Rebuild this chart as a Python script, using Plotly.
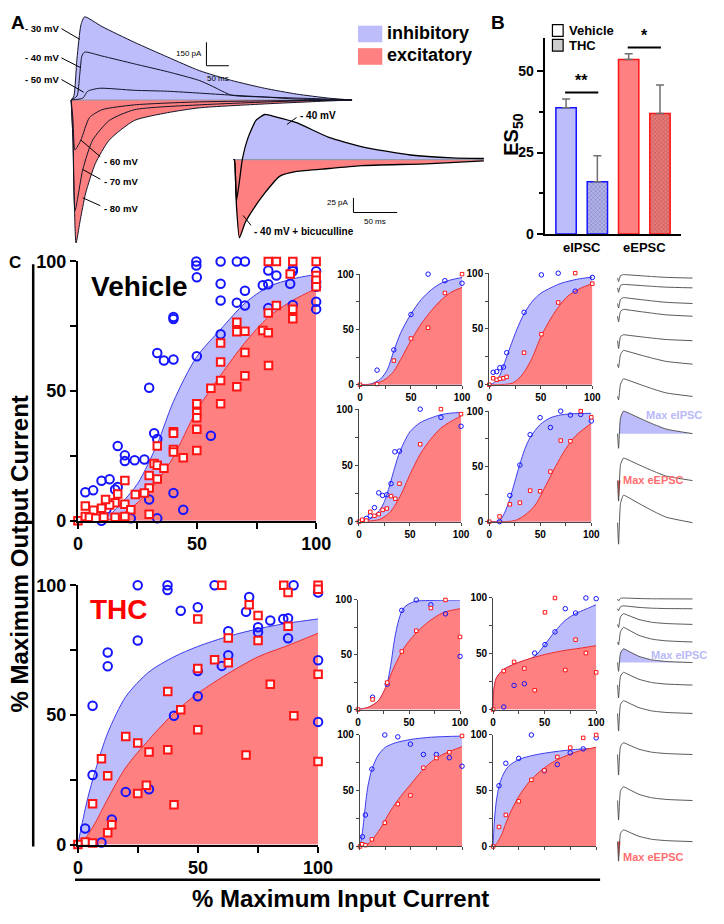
import plotly.graph_objects as go

W, H = 724, 924
FONT = "Liberation Sans, Arial, Helvetica, sans-serif"
BLUE_FILL = "rgb(189,189,252)"
RED_FILL = "rgb(255,128,128)"
BLUE_LINE = "rgb(60,60,235)"
RED_LINE = "rgb(235,45,45)"
BLUE_MK = "rgb(20,20,255)"
RED_MK = "rgb(255,20,20)"

# ---------------- Panel A data (time ms, current pA) ----------------
t_m30 = [0, 6, 13, 22, 30, 69, 141, 215, 286, 358, 432, 503, 575, 627]
i_m30 = [0, 25, 262, 481, 531, 469, 369, 275, 188, 125, 75, 38, 12, 0]
t_m40 = [0, 13, 19, 24, 30, 69, 141, 215, 286, 315, 358, 432, 575, 627]
i_m40 = [0, 25, 156, 281, 306, 281, 231, 181, 125, 88, 31, 19, 6, 0]
t_m50 = [0, 26, 37, 63, 141, 215, 286, 358, 432, 503, 627]
i_m50 = [0, 12, 56, 75, 62, 56, 44, 31, 19, 6, 0]
t_m60 = [0, 4, 8.7, 21.7, 41, 69, 141, 286, 627]
i_m60 = [0, -120, -319, -256, -112, -62, -31, -12, 0]
t_m70 = [0, 4, 8.7, 26, 48, 85, 141, 286, 503, 627]
i_m70 = [0, -250, -706, -444, -256, -131, -62, -31, -6, 0]
t_m80 = [0, 4, 11, 19.5, 32.5, 54, 85, 141, 215, 286, 432, 575, 627]
i_m80 = [0, -238, -913, -781, -594, -406, -256, -131, -81, -50, -25, -6, 0]

t_in40 = [0, 1, 3.3, 6.7, 10, 16.7, 25.6, 35.6, 48, 72, 109, 147, 202, 250, 286]
i_in40 = [0, 0, -70, -37, 0, 38, 67, 77, 73, 63, 38, 22, 8, 3, 2]
t_bic = [0, 1, 3.3, 6.7, 13.3, 20, 35.6, 53, 72, 109, 147, 220, 286]
i_bic = [0, 0, -78, -133, -107, -90, -57, -28, -20, -15, -10, -7, -2]

# ---------------- Panel B data ----------------
b_groups = ["eIPSC", "eEPSC"]
es50_vehicle = [38.7, 53.5]
es50_vehicle_err = [2.7, 1.8]
es50_thc = [16.0, 37.0]
es50_thc_err = [8.0, 8.7]

# ---------------- Panel C main : Vehicle ----------------
veh_ipsc_x = [49.7, 49.7, 59.9, 66.7, 70.1, 49.9, 59.9, 59.9, 66.7, 70.1, 70.1, 79.9, 77.6, 79.9, 83.3, 79.9, 89.1, 90.2, 90.2, 90.2,
              100, 100, 100, 100, 100, 40.1, 40.1, 33.3, 36.1, 40.1, 59.9, 49.9, 29.9, 32.0, 33.3, 55.8, 16.7, 19.7, 19.7, 23.8,
              27.9, 3.1, 6.4, 9.9, 13.3, 15.6, 16.7, 12.0, 40.1, 29.9, 44.2, 33.3, 22.2, 9.9]
veh_ipsc_y = [100, 98.4, 100, 100, 100, 93.9, 91.4, 84.9, 84.1, 88.7, 83.0, 96.5, 90.8, 91.2, 94.6, 82.0, 91.4, 83.2, 97.1, 96.2,
              96.2, 92.1, 90.2, 84.5, 81.6, 78.6, 77.8, 64.7, 61.8, 62.2, 71.9, 63.4, 51.3, 33.7, 31.5, 32.8, 28.8, 25.2, 23.0, 23.3,
              23.6, 11.0, 11.7, 15.4, 16.0, 12.0, 13.0, 4.4, 10.7, 8.2, 4.2, 0.9, 0.9, 0]
veh_epsc_x = [0, 79.9, 83.3, 90.2, 100, 89.1, 100, 100, 100, 83.3, 79.9, 90.2, 90.2, 66.7, 66.7, 70.1, 77.6, 79.9, 59.9, 70.1,
              59.9, 80.0, 66.7, 70.1, 55.8, 59.9, 59.9, 49.9, 49.9, 49.9, 49.9, 49.9, 40.1, 40.1, 40.1, 40.1, 44.2, 33.3, 32.0, 33.3,
              36.1, 29.9, 33.3, 29.9, 27.9, 24.1, 19.7, 19.7, 15.6, 13.3, 9.9, 6.5, 3.1, 11.6, 16.7, 22.2, 19.7, 29.9, 3.1, 4.8,
              7.5, 10.9, 15.6]
veh_epsc_y = [0, 100, 100, 100, 100, 95.2, 94.6, 92.7, 90.2, 83.0, 80.1, 81.6, 77.9, 76.5, 72.9, 73.1, 73.4, 72.5, 68.5, 64.9,
              61.2, 59.9, 51.7, 55.9, 51.1, 54.1, 45.1, 45.1, 41.7, 39.7, 35.3, 27.1, 34.3, 33.7, 27.5, 26.5, 24.3, 28.8, 22.1, 21.4,
              20.2, 17.4, 16.1, 12.6, 10.7, 10.1, 15.5, 6.3, 6.9, 6.1, 4.8, 4.0, 5.7, 8.2, 10.3, 4.2, 1.6, 2.5, 1.6, 1.3,
              0.9, 1.3, 1.3]
veh_fit_ix = [0, 11.6, 18.4, 25.2, 33.3, 40.1, 49.7, 59.9, 70.1, 79.9, 90.2, 100]
veh_fit_i = [0, 1.3, 6.9, 14.5, 29.6, 46, 63, 73.8, 83.9, 90.2, 93.3, 95]
veh_fit_ex = [0, 14.3, 22.4, 29.3, 34.7, 40.1, 49.7, 59.9, 70.1, 79.9, 90.2, 100]
veh_fit_e = [0, 0.6, 5, 10.7, 17, 24.6, 42.2, 56.1, 68.7, 78.5, 85, 89.5]

# ---------------- Panel C main : THC ----------------
thc_ipsc_x = [24.9, 37.3, 37.3, 56.9, 89.8, 100, 42.8, 49.9, 71.3, 70.0, 80.1, 85.5, 87.5, 75.0, 75.0, 62.6, 87.5, 24.9, 12.4, 12.4,
              6.1, 49.9, 59.9, 62.6, 49.9, 40.0, 100, 100, 6.1, 19.9, 29.6, 14.1, 3.0, 9.8]
thc_ipsc_y = [100, 100, 98.2, 100, 100, 97.2, 90.2, 91.5, 95.5, 89.8, 86.4, 87.0, 87.3, 83.8, 81.9, 82.3, 79.6, 78.7, 74.1, 68.8,
              53.5, 66.9, 68.9, 73.0, 57.2, 49.7, 71.1, 47.3, 26.8, 20.3, 21.3, 9.7, 6.2, 0.8]
thc_epsc_x = [59.9, 85.7, 87.5, 100, 100, 49.9, 71.3, 75.0, 87.5, 62.6, 75.0, 56.9, 62.6, 49.9, 37.4, 42.8, 80.1, 89.9, 100, 49.9,
              19.9, 24.9, 37.4, 29.6, 70.0, 100, 9.8, 12.4, 28.5, 24.9, 40.0, 6.1, 14.1, 12.4, 3.0, 6.1, 0]
thc_epsc_y = [100, 100, 97.2, 100, 98.5, 87.0, 92.5, 88.3, 84.2, 79.7, 78.7, 71.3, 70.1, 67.9, 59.0, 52.0, 61.8, 49.7, 65.7, 44.3,
              41.7, 39.2, 36.6, 35.7, 34.5, 32.0, 33.1, 26.5, 22.9, 19.7, 15.3, 15.7, 7.6, 4.5, 1.0, 0.6, 0]
thc_fit_ix = [0, 1.3, 4, 7.4, 12.4, 19.9, 29.6, 40, 49.9, 62.6, 75, 87.5, 100]
thc_fit_i = [0, 6.1, 17.6, 29, 43, 57, 66.6, 72.4, 76.4, 80.3, 83.2, 85.4, 87]
thc_fit_ex = [0, 3, 7.4, 12.4, 19.9, 29.6, 40, 49.9, 62.6, 75, 87.5, 100]
thc_fit_e = [0, 2.3, 8.7, 17.6, 29.7, 40.5, 50.7, 58.3, 66, 72.4, 76.8, 81.5]

# ---------------- Small example cells ----------------
v1_ix = [16.8, 33.2, 50.0, 66.8, 83.2, 100]
v1_iy = [13.2, 31.5, 63.5, 100, 94.1, 91.8]
v1_ex = [0, 16.8, 33.2, 50.0, 66.8, 83.2, 100]
v1_ey = [0, 0.6, 21.8, 41.8, 51.5, 82.9, 100]
v1_fit_ix = [0, 10, 20, 27, 33, 40, 50, 60, 70, 80, 90, 100]
v1_fit_i = [0, 0.5, 5, 14, 30, 47, 64, 77, 86, 92, 95, 97]
v1_fit_ex = [0, 15, 25, 33, 40, 50, 60, 70, 80, 90, 100]
v1_fit_e = [0, 1, 5, 12, 23, 40, 55, 67, 77, 84, 88]

v2_ix = [3.8, 7.2, 10.3, 13.8, 16.9, 33.8, 50.6, 66.9, 83.4, 100]
v2_iy = [11.1, 11.7, 15.2, 15.8, 28.7, 64.9, 98.5, 100, 83.9, 96.2]
v2_ex = [0, 3.8, 7.2, 10.3, 13.8, 16.9, 33.8, 50.6, 66.9, 83.4, 100]
v2_ey = [0, 5.8, 4.4, 5.3, 5.8, 7.0, 28.7, 45.3, 73.7, 100, 90.6]
v2_fit_ix = [0, 5, 10, 15, 20, 27, 34, 42, 50, 60, 70, 85, 100]
v2_fit_i = [0, 2, 8, 20, 33, 50, 64, 75, 82, 87, 91, 94.5, 96.5]
v2_fit_ex = [0, 22.5, 31.9, 41.3, 50.6, 63.1, 75.6, 88.1, 100]
v2_fit_e = [0, 1.5, 8.8, 23.4, 43.9, 64.3, 78.9, 86.3, 90.6]

v3_ix = [7.3, 11.1, 15.2, 19.4, 23.2, 27.3, 31.4, 35.2, 39.7, 60.0, 80.3, 100]
v3_iy = [2.9, 5.2, 12.5, 25.6, 23.3, 23.9, 33.8, 62.1, 62.7, 100, 92.7, 84.8]
v3_ex = [0, 3.2, 7.3, 11.1, 15.2, 19.4, 23.2, 27.3, 31.4, 35.6, 39.7, 60.0, 80.3, 100]
v3_ey = [0, 1.7, 0.9, 8.7, 5.2, 6.7, 10.5, 11.7, 22.7, 20.4, 33.8, 68.8, 100, 95.6]
v3_fit_ix = [0, 10, 20, 25, 30, 35, 40, 50, 60, 70, 80, 90, 100]
v3_fit_i = [0, 2, 10, 18, 32, 48, 62, 80, 88, 92, 95, 96.5, 97]
v3_fit_ex = [0, 20, 30, 40, 50, 60, 70, 80, 90, 100]
v3_fit_e = [0, 2, 8, 22, 42, 60, 73, 83, 89, 94]

v4_ix = [10.1, 20.2, 30.0, 40.1, 49.8, 59.9, 70.0, 79.5, 89.6, 100]
v4_iy = [0, 23.7, 51.2, 78.7, 94.1, 85.2, 100, 96.4, 97.0, 91.1]
v4_ex = [0, 10.1, 20.2, 30.0, 40.1, 49.8, 59.9, 70.0, 79.5, 89.6, 100]
v4_ey = [0, 4.7, 15.7, 17.2, 28.1, 27.5, 45.3, 73.4, 72.8, 100, 94.4]
v4_fit_ix = [0, 10, 15, 20, 25, 30, 35, 40, 50, 60, 70, 80, 100]
v4_fit_i = [0, 1, 8, 20, 36, 52, 66, 76, 88, 94, 96.5, 97.5, 98]
v4_fit_ex = [0, 25, 35, 45, 55, 65, 75, 85, 100]
v4_fit_e = [0, 1, 6, 15, 32, 50, 66, 78, 89]

t1_ix = [14.3, 28.6, 42.9, 57.1, 71.4, 85.7, 100]
t1_iy = [11.2, 23.1, 90.5, 100, 95.6, 87.3, 48.5]
t1_ex = [0, 14.3, 28.6, 42.9, 57.1, 71.4, 85.7, 100]
t1_ey = [0, 9.2, 24.6, 53.0, 71.9, 92.6, 100, 66.3]
t1_fit_ix = [0, 10, 20, 28, 32, 36, 40, 45, 55, 70, 100]
t1_fit_i = [0, 2, 8, 22, 40, 65, 82, 93, 98.5, 99.5, 100]
t1_fit_ex = [0, 10, 20, 28, 35, 45, 55, 65, 75, 85, 100]
t1_fit_e = [0, 2, 8, 22, 38, 56, 68, 77, 84, 89, 92]

t2_ix = [10.3, 20.3, 30.3, 40.3, 50.3, 60, 70, 80, 90, 100]
t2_iy = [2.3, 21.6, 23.1, 50.6, 58.2, 69.6, 90.4, 86.5, 100, 99.4]
t2_ex = [0, 10.3, 20.3, 30.3, 40.3, 50.3, 60, 70, 80, 90, 100]
t2_ey = [0, 34.5, 42.7, 36.8, 17.3, 87.1, 100, 35.4, 62.6, 50.6, 33.3]
t2_fit_ix = [0, 0.9, 3.1, 9.4, 21.9, 37.5, 42, 50, 60, 70, 80, 90, 100]
t2_fit_i = [0, 19.3, 28.1, 35.4, 41.2, 46.2, 49, 58, 70, 80, 86, 90, 94]
t2_fit_ex = [0, 0.9, 3.1, 9.4, 21.9, 37.5, 53.1, 68.8, 84.4, 100]
t2_fit_e = [0, 19.3, 28.1, 35.4, 41.2, 46.2, 50, 52.9, 55, 57.3]

t3_ix = [2.5, 5.4, 11.7, 24.4, 37.1, 49.5, 62.2, 74.9, 87.6, 100]
t3_iy = [8.7, 28.3, 69.4, 100, 98.3, 91.8, 82.5, 82.5, 79.6, 72]
t3_ex = [0, 2.2, 5.4, 11.7, 24.4, 37.1, 49.5, 62.2, 74.9, 87.6, 100]
t3_ey = [0, 2, 1.2, 6.4, 21.3, 38, 45.8, 70.6, 79.3, 84.5, 99.1]
t3_fit_ix = [0, 2, 4, 6, 8, 12, 18, 25, 35, 50, 70, 100]
t3_fit_i = [0, 10, 25, 42, 55, 70, 82, 89, 93, 96, 98, 99]
t3_fit_ex = [0, 6, 12, 20, 30, 40, 50, 60, 70, 80, 90, 100]
t3_fit_e = [0, 1, 6, 16, 32, 45, 56, 67, 76, 82, 86, 89.5]

t4_ix = [5.7, 12.3, 24.8, 37.1, 49.7, 62.3, 74.8, 87.4, 100]
t4_iy = [54.5, 74.6, 79.0, 100, 67.9, 73.5, 84.0, 87.5, 97.4]
t4_ex = [0, 5.7, 12.3, 24.8, 37.1, 49.7, 62.3, 74.8, 87.4, 100]
t4_ey = [0, 17.5, 28.3, 40.5, 59.8, 68.2, 80.2, 88.6, 97.4, 100]
t4_fit_ix = [0, 1, 3, 6, 10, 15, 25, 40, 60, 80, 100]
t4_fit_i = [0, 20, 40, 55, 65, 72, 78, 82, 85, 87, 88]
t4_fit_ex = [0, 3, 8, 12, 18, 25, 35, 45, 55, 65, 75, 85, 100]
t4_fit_e = [0, 2, 10, 20, 33, 45, 58, 67, 74, 79, 83, 86, 89]

# ---------------- Example current traces (right column) ----------------
trace_t = [0, 1, 3, 6, 12, 22, 35, 50, 77]
veh_traces = [
    [0, -3.5, 2.5, 3.5, 3.2, 2.5, 1.6, 0.7, 0],
    [0, -4.6, 2.5, 3.5, 3.2, 2.5, 1.6, 0.7, 0],
    [0, -4.6, 4.2, 6, 5.4, 4.2, 2.7, 1.2, 0],
    [0, -5.8, 4.9, 7, 6.3, 4.9, 3.2, 1.4, 0],
    [0, -8, 4.2, 6, 5.4, 4.2, 2.7, 1.2, 0],
    [0, -3.5, 9.8, 14, 12.6, 9.8, 6.3, 2.8, 0],
    [0, -3.5, 12.6, 18, 16.2, 12.6, 8.1, 3.6, 0],
    [0, -15, 16.1, 23, 20.7, 16.1, 10.4, 4.6, 0],
    [0, -21, 16.1, 23, 20.7, 16.1, 10.4, 4.6, 0],
    [0, -22, 19.6, 28, 25.2, 19.6, 12.6, 5.6, 0],
]
thc_traces = [
    [0, -2, 0.7, 1, 0.8, 0.45, 0.2, 0.1, 0],
    [0, -2, 2.1, 3, 2.4, 1.4, 0.6, 0.2, 0],
    [0, -3, 7.7, 11, 8.8, 5, 2.2, 0.9, 0],
    [0, -3, 10.5, 15, 12, 6.8, 3, 1.2, 0],
    [0, -9, 9.8, 14, 11.2, 6.3, 2.8, 1.1, 0],
    [0, -13, 9.1, 13, 10.4, 5.9, 2.6, 1, 0],
    [0, -18, 9.1, 13, 10.4, 5.9, 2.6, 1, 0],
    [0, -21, 8.4, 12, 9.6, 5.4, 2.4, 1, 0],
    [0, -20, 9.8, 14, 11.2, 6.3, 2.8, 1.1, 0],
    [0, -20, 8.4, 12, 9.6, 5.4, 2.4, 1, 0],
]
# layout offsets (pixel rows) for stacking the traces
veh_rows = [274, 284, 300, 313, 338, 362, 395, 433, 481, 524]
thc_rows = [602, 612, 628, 646, 667, 690, 719, 761, 808, 850]


def xd(a, b):
    return [a / W, b / W]


def yd(top, bot):
    return [1 - bot / H, 1 - top / H]


def px(x):
    return x / W


def py(y):
    return 1 - y / H


fig = go.Figure()
layout = {}
annotations = []
shapes = []


def add(tr):
    fig.add_trace(tr)


def note(text, x, y, xref="paper", yref="paper", xanchor="center", yanchor="middle", size=10, color="black",
         bold=True, angle=0):
    annotations.append(dict(text=text, x=x, y=y, xref=xref, yref=yref, xanchor=xanchor, yanchor=yanchor,
                            showarrow=False, textangle=angle,
                            font=dict(family=FONT, size=size, color=color, weight="bold" if bold else "normal")))


# ============ Panel A ============
for tt, ii in [(t_m30, i_m30), (t_m40, i_m40), (t_m50, i_m50)]:
    add(go.Scatter(x=tt, y=ii, mode="lines", line=dict(width=0, shape="spline", smoothing=0.6),
                   fill="tozeroy", fillcolor=BLUE_FILL, xaxis="x", yaxis="y", hoverinfo="skip", showlegend=False))
for tt, ii in [(t_m80, i_m80), (t_m70, i_m70), (t_m60, i_m60)]:
    add(go.Scatter(x=tt, y=ii, mode="lines", line=dict(width=0, shape="spline", smoothing=0.6),
                   fill="tozeroy", fillcolor=RED_FILL, xaxis="x", yaxis="y", hoverinfo="skip", showlegend=False))
add(go.Scatter(x=[0, 627], y=[0, 0], mode="lines", line=dict(color="rgb(150,150,170)", width=1.2),
               xaxis="x", yaxis="y", hoverinfo="skip", showlegend=False))
for tt, ii in [(t_m30, i_m30), (t_m40, i_m40), (t_m50, i_m50), (t_m60, i_m60), (t_m70, i_m70), (t_m80, i_m80)]:
    add(go.Scatter(x=tt, y=ii, mode="lines", line=dict(color="rgb(20,20,40)", width=1, shape="spline", smoothing=0.6),
                   xaxis="x", yaxis="y", hoverinfo="skip", showlegend=False))

a_lbl = [("- 30 mV", -23, 456, "right", [-21.7, 19.5], [456, 387]),
         ("- 40 mV", -23, 269, "right", [-21.7, 21.7], [269, 206]),
         ("- 50 mV", -23, 131, "right", [-21.7, 28], [131, 50]),
         ("- 60 mV", 69, -394, "left", [21.7, 65], [-256, -362]),
         ("- 70 mV", 69, -519, "left", [26, 65], [-444, -506]),
         ("- 80 mV", 69, -694, "left", [26, 65], [-625, -675])]
for txt, tx, ty, anc, lx, ly in a_lbl:
    add(go.Scatter(x=lx, y=ly, mode="lines", line=dict(color="black", width=1), xaxis="x", yaxis="y",
                   hoverinfo="skip", showlegend=False))
    note(txt, tx, ty, "x", "y", xanchor=anc, size=9.5)
add(go.Scatter(x=[302, 302, 352], y=[369, 219, 219], mode="lines", line=dict(color="black", width=1),
               xaxis="x", yaxis="y", hoverinfo="skip", showlegend=False))
note("150 pA", 297, 294, "x", "y", xanchor="right", size=8, bold=False)
note("50 ms", 327, 180, "x", "y", yanchor="top", size=8, bold=False)

# inset
add(go.Scatter(x=t_in40, y=[max(v, 0) for v in i_in40], mode="lines", line=dict(width=0, shape="spline", smoothing=0.5),
               fill="tozeroy", fillcolor=BLUE_FILL, xaxis="x2", yaxis="y2", hoverinfo="skip", showlegend=False))
add(go.Scatter(x=t_bic, y=i_bic, mode="lines", line=dict(width=0, shape="spline", smoothing=0.5),
               fill="tozeroy", fillcolor=RED_FILL, xaxis="x2", yaxis="y2", hoverinfo="skip", showlegend=False))
add(go.Scatter(x=[0, 286], y=[0, 0], mode="lines", line=dict(color="rgb(150,150,170)", width=1.2),
               xaxis="x2", yaxis="y2", hoverinfo="skip", showlegend=False))
for tt, ii in [(t_in40, i_in40), (t_bic, i_bic)]:
    add(go.Scatter(x=tt, y=ii, mode="lines", line=dict(color="black", width=1.3, shape="spline", smoothing=0.5),
                   xaxis="x2", yaxis="y2", hoverinfo="skip", showlegend=False))
for txt, tx, ty, lx, ly in [("- 40 mV", 74, 75, [61, 72], [60, 72]),
                            ("- 40 mV + bicuculline", 21, -122, [11, 20], [-95, -112])]:
    add(go.Scatter(x=lx, y=ly, mode="lines", line=dict(color="black", width=1), xaxis="x2", yaxis="y2",
                   hoverinfo="skip", showlegend=False))
    note(txt, tx, ty, "x2", "y2", xanchor="left", size=10)
add(go.Scatter(x=[137, 137, 187], y=[-65, -90, -90], mode="lines", line=dict(color="black", width=1),
               xaxis="x2", yaxis="y2", hoverinfo="skip", showlegend=False))
note("25 pA", 134, -73, "x2", "y2", xanchor="right", size=8, bold=False)
note("50 ms", 162, -94, "x2", "y2", yanchor="top", size=8, bold=False)

layout["xaxis"] = dict(domain=xd(0, 520), range=[-147.6, 981], visible=False, anchor="y")
layout["yaxis"] = dict(domain=yd(0, 240), range=[-925, 575], visible=False, anchor="x")
layout["xaxis2"] = dict(domain=xd(230, 500), range=[-5.6, 294.4], visible=False, anchor="y2")
layout["yaxis2"] = dict(domain=yd(95, 240), range=[-145, 96.7], visible=False, anchor="x2")

shapes.append(dict(type="rect", xref="paper", yref="paper", x0=px(363), x1=px(388), y0=py(33), y1=py(16),
                   fillcolor=BLUE_FILL, line=dict(width=0)))
shapes.append(dict(type="rect", xref="paper", yref="paper", x0=px(363), x1=px(388), y0=py(56), y1=py(39),
                   fillcolor=RED_FILL, line=dict(width=0)))
note("inhibitory", px(391), py(24), xanchor="left", size=18)
note("excitatory", px(391), py(46), xanchor="left", size=18)

# ============ Panel B ============
add(go.Bar(x=[0, 2], y=es50_vehicle, width=0.65, xaxis="x3", yaxis="y3", showlegend=False,
           marker=dict(color=[BLUE_FILL, RED_FILL], line=dict(color=[BLUE_MK, RED_MK], width=1.5)),
           error_y=dict(type="data", array=es50_vehicle_err, arrayminus=[0, 0], symmetric=False,
                        color="rgb(110,110,110)", thickness=1.5, width=4)))
add(go.Bar(x=[1, 3], y=es50_thc, width=0.65, xaxis="x3", yaxis="y3", showlegend=False,
           marker=dict(color=["rgb(178,178,240)", "rgb(240,118,118)"], line=dict(color=[BLUE_MK, RED_MK], width=1.5),
                       pattern=dict(shape="x", size=3, solidity=0.3, fgcolor=["rgb(110,110,190)", "rgb(170,60,60)"],
                                    fillmode="overlay")),
           error_y=dict(type="data", array=es50_thc_err, arrayminus=[0, 0], symmetric=False,
                        color="rgb(110,110,110)", thickness=1.5, width=4)))
add(go.Scatter(x=[-0.03, 1.03], y=[43.4, 43.4], mode="lines", line=dict(color="black", width=2),
               xaxis="x3", yaxis="y3", hoverinfo="skip", showlegend=False))
add(go.Scatter(x=[1.97, 3.03], y=[57.2, 57.2], mode="lines", line=dict(color="black", width=2),
               xaxis="x3", yaxis="y3", hoverinfo="skip", showlegend=False))
note("**", 0.5, 43.8, "x3", "y3", yanchor="bottom", size=16)
note("*", 2.5, 57.6, "x3", "y3", yanchor="bottom", size=16)
note("ES<sub>50</sub>", px(522), py(128), size=20, angle=-90)
# legend of panel B
shapes.append(dict(type="rect", xref="paper", yref="paper", x0=px(563), x1=px(574), y0=py(27), y1=py(15),
                   fillcolor="white", line=dict(color="black", width=1.2)))
shapes.append(dict(type="rect", xref="paper", yref="paper", x0=px(563), x1=px(574), y0=py(42), y1=py(30),
                   fillcolor="rgb(205,205,205)", line=dict(color="black", width=1.2)))
note("Vehicle", px(578), py(21), xanchor="left", size=13)
note("THC", px(578), py(36), xanchor="left", size=13)

layout["xaxis3"] = dict(domain=xd(555, 695), range=[-0.683, 3.665], anchor="y3", showline=True, linecolor="black",
                        linewidth=2, tickvals=[0.5, 2.5], ticktext=b_groups, ticks="", showgrid=False, zeroline=False,
                        tickfont=dict(family=FONT, size=13, color="black", weight="bold"))
layout["yaxis3"] = dict(domain=yd(29, 229), range=[0, 60], anchor="x3", showline=True, linecolor="black",
                        linewidth=2, tickvals=[0, 25, 50], ticks="outside", ticklen=6, tickwidth=2, tickcolor="black",
                        minor=dict(tickvals=[12.5, 37.5], ticks="outside", ticklen=4, tickwidth=2, tickcolor="black"),
                        showgrid=False, zeroline=False,
                        tickfont=dict(family=FONT, size=14, color="black", weight="bold"))


# ============ Panel C ============
def add_panel(n, ix, iy, ex, ey, fix, fi, fex, fe, big):
    xa, ya = f"x{n}", f"y{n}"
    add(go.Scatter(x=fix, y=fi, mode="lines", line=dict(color=BLUE_LINE, width=1, shape="spline", smoothing=0.8),
                   fill="tozeroy", fillcolor=BLUE_FILL, xaxis=xa, yaxis=ya, hoverinfo="skip", showlegend=False))
    add(go.Scatter(x=fex, y=fe, mode="lines", line=dict(color=RED_LINE, width=1, shape="spline", smoothing=0.8),
                   fill="tozeroy", fillcolor=RED_FILL, xaxis=xa, yaxis=ya, hoverinfo="skip", showlegend=False))
    s = 8.5 if big else 4.5
    lw = 2 if big else 1
    add(go.Scatter(x=ix, y=iy, mode="markers", cliponaxis=False, xaxis=xa, yaxis=ya, hoverinfo="skip",
                   showlegend=False,
                   marker=dict(symbol="circle-open", size=s, color=BLUE_MK, line=dict(width=lw, color=BLUE_MK))))
    add(go.Scatter(x=ex, y=ey, mode="markers", cliponaxis=False, xaxis=xa, yaxis=ya, hoverinfo="skip",
                   showlegend=False,
                   marker=dict(symbol="square", size=s - 1, color="white", line=dict(width=lw, color=RED_MK))))


def set_axes(n, xpx, ypx, big, xlabels=True):
    if big:
        style = dict(linecolor="black", linewidth=2, ticklen=6, tickwidth=2, tickcolor="black",
                     tickfont=dict(family=FONT, size=18, color="black", weight="bold"))
        mstyle = dict(ticklen=6, tickwidth=2, tickcolor="black")
    else:
        style = dict(linecolor="rgb(70,70,70)", linewidth=1, ticklen=3, tickwidth=1, tickcolor="rgb(70,70,70)",
                     tickfont=dict(family=FONT, size=10, color="black", weight="bold"))
        mstyle = dict(ticklen=3, tickwidth=1, tickcolor="rgb(70,70,70)")
    common = dict(range=[0, 100], tickvals=[0, 50, 100], showgrid=False, zeroline=False, showline=True,
                  ticks="outside", minor=dict(tickvals=[25, 75], ticks="outside", showgrid=False, **mstyle))
    layout[f"xaxis{n}"] = dict(domain=xd(*xpx), anchor=f"y{n}", showticklabels=xlabels, **common, **style)
    layout[f"yaxis{n}"] = dict(domain=yd(*ypx), anchor=f"x{n}", **common, **style)


add_panel(4, veh_ipsc_x, veh_ipsc_y, veh_epsc_x, veh_epsc_y, veh_fit_ix, veh_fit_i, veh_fit_ex, veh_fit_e, True)
set_axes(4, (75, 320), (257, 522), True)
add_panel(5, thc_ipsc_x, thc_ipsc_y, thc_epsc_x, thc_epsc_y, thc_fit_ix, thc_fit_i, thc_fit_ex, thc_fit_e, True)
set_axes(5, (75, 322), (588, 853), True)

small = [
    (6, v1_ix, v1_iy, v1_ex, v1_ey, v1_fit_ix, v1_fit_i, v1_fit_ex, v1_fit_e, (365, 470), (270, 383), True),
    (7, v2_ix, v2_iy, v2_ex, v2_ey, v2_fit_ix, v2_fit_i, v2_fit_ex, v2_fit_e, (498, 604), (269, 383), True),
    (8, v3_ix, v3_iy, v3_ex, v3_ey, v3_fit_ix, v3_fit_i, v3_fit_ex, v3_fit_e, (364, 469), (408, 523), True),
    (9, v4_ix, v4_iy, v4_ex, v4_ey, v4_fit_ix, v4_fit_i, v4_fit_ex, v4_fit_e, (498, 603), (410, 523), True),
    (10, t1_ix, t1_iy, t1_ex, t1_ey, t1_fit_ix, t1_fit_i, t1_fit_ex, t1_fit_e, (363, 468), (603, 715), True),
    (11, t2_ix, t2_iy, t2_ex, t2_ey, t2_fit_ix, t2_fit_i, t2_fit_ex, t2_fit_e, (502, 608), (601, 715), True),
    (12, t3_ix, t3_iy, t3_ex, t3_ey, t3_fit_ix, t3_fit_i, t3_fit_ex, t3_fit_e, (365, 470), (741, 855), False),
    (13, t4_ix, t4_iy, t4_ex, t4_ey, t4_fit_ix, t4_fit_i, t4_fit_ex, t4_fit_e, (502, 608), (741, 855), False),
]
for n, a, b, c, d, e, f, g, h, xp, yp, lab in small:
    add_panel(n, a, b, c, d, e, f, g, h, False)
    set_axes(n, xp, yp, False, lab)

# ---- example traces column ----
TRACE_LINE = "rgb(70,70,70)"
for rows, traces, ipsc_idx, epsc_idx in [(veh_rows, veh_traces, 7, 8), (thc_rows, thc_traces, 4, 9)]:
    for k, (row, tr) in enumerate(zip(rows, traces)):
        yv = [v - row for v in tr]
        if k == ipsc_idx:
            add(go.Scatter(x=trace_t + [trace_t[-1], 0], y=[max(v, 0) - row for v in tr] + [-row, -row],
                           mode="lines", fill="toself", fillcolor=BLUE_FILL,
                           line=dict(width=0, shape="spline", smoothing=0.5),
                           xaxis="x14", yaxis="y14", hoverinfo="skip", showlegend=False))
        if k == epsc_idx:
            add(go.Scatter(x=trace_t[:3], y=[-row, tr[1] - row, -row], mode="lines", fill="toself",
                           fillcolor="rgb(240,80,80)", line=dict(width=0),
                           xaxis="x14", yaxis="y14", hoverinfo="skip", showlegend=False))
        add(go.Scatter(x=trace_t, y=yv, mode="lines",
                       line=dict(color=TRACE_LINE, width=0.9, shape="spline", smoothing=0.5),
                       xaxis="x14", yaxis="y14", hoverinfo="skip", showlegend=False))
layout["xaxis14"] = dict(domain=xd(620, 724), range=[-10, 94], visible=False, anchor="y14")
layout["yaxis14"] = dict(domain=yd(255, 924), range=[-924, -255], visible=False, anchor="x14")

for txt, x, y, col in [("Max eIPSC", 688, 414, "rgb(185,185,248)"), ("Max eEPSC", 667, 480, "rgb(255,110,110)"),
                       ("Max eIPSC", 693, 659, "rgb(185,185,248)"), ("Max eEPSC", 667, 866, "rgb(255,110,110)")]:
    note(txt, px(x), py(y), size=11, color=col)

# ---- texts & frame lines ----
note("A", px(13), py(13), size=19)
note("B", px(507), py(13), size=19)
note("C", px(10), py(258), size=17)
note("Vehicle", px(138), py(283), size=28)
note("THC", px(117), py(613), size=28, color="rgb(255,0,0)")
note("% Maximum Output Current", px(15), py(556), size=24, angle=-90)
note("% Maximum Input Current", px(345), py(908), size=24)
shapes.append(dict(type="line", xref="paper", yref="paper", x0=px(29), x1=px(29), y0=py(260), y1=py(855),
                   line=dict(color="black", width=2.5)))
shapes.append(dict(type="line", xref="paper", yref="paper", x0=px(72), x1=px(612), y0=py(889), y1=py(889),
                   line=dict(color="black", width=2.5)))

fig.update_layout(
    width=W, height=H, margin=dict(l=0, r=0, t=0, b=0),
    paper_bgcolor="white", plot_bgcolor="rgba(0,0,0,0)",
    barmode="overlay", showlegend=False,
    annotations=annotations, shapes=shapes, **layout)

fig.write_html("out.html")
